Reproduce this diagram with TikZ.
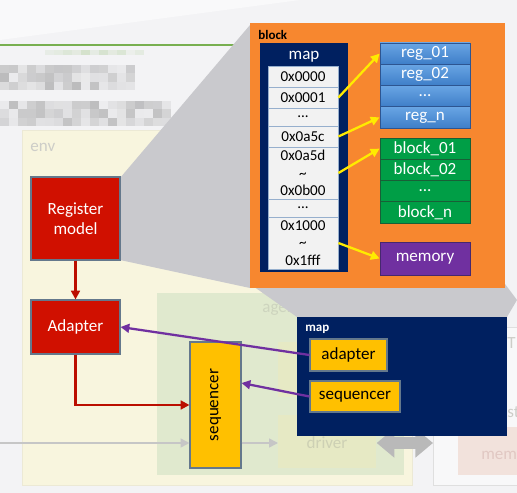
\documentclass[tikz,border=0pt]{standalone}
\usepackage{fontspec}
\setmainfont{Carlito}
\usetikzlibrary{arrows.meta,shapes.geometric}
\definecolor{bgc}{RGB}{243,243,245}
\definecolor{envc}{RGB}{248,245,222}
\definecolor{agentc}{RGB}{224,233,206}
\definecolor{innerc}{RGB}{230,233,196}
\definecolor{fadetxt}{RGB}{205,205,200}
\definecolor{calloutc}{RGB}{201,201,205}
\definecolor{orangec}{RGB}{247,135,47}
\definecolor{navyc}{RGB}{0,32,96}
\definecolor{cellc}{RGB}{242,242,242}
\definecolor{cellb}{RGB}{150,175,205}
\definecolor{bluetop}{RGB}{105,165,228}
\definecolor{bluebot}{RGB}{62,126,200}
\definecolor{blueb}{RGB}{45,85,145}
\definecolor{greenc}{RGB}{0,158,70}
\definecolor{greenb}{RGB}{25,95,55}
\definecolor{purplec}{RGB}{112,48,160}
\definecolor{redc}{RGB}{208,16,0}
\definecolor{boxb}{RGB}{100,120,140}
\definecolor{yelc}{RGB}{255,192,0}
\definecolor{arrowyel}{RGB}{255,235,0}
\definecolor{linegreen}{RGB}{120,175,80}
\tikzset{
  txt/.style={font=\fontsize{9.7}{11.3}\selectfont, align=center, inner sep=0pt},
  cell/.style={txt, font=\fontsize{8.6}{10}\selectfont, fill=cellc, draw=cellb, line width=0.5pt, minimum width=1.4cm, text=black},
  regbox/.style={txt, top color=bluetop, bottom color=bluebot, draw=blueb, line width=0.5pt, minimum width=1.8cm, minimum height=0.425cm, text=white},
  grnbox/.style={txt, fill=greenc, draw=greenb, line width=0.5pt, minimum width=1.8cm, minimum height=0.425cm, text=white},
  redbox/.style={txt, fill=redc, draw=boxb, line width=0.6pt, text=white},
  yelbox/.style={txt, fill=yelc, draw=boxb, line width=0.6pt, text=black},
  yarrow/.style={draw=arrowyel, line width=1.3pt, -{Triangle[length=5pt,width=5pt]}},
  parrow/.style={draw=purplec, line width=1.3pt, -{Triangle[length=5pt,width=5pt]}},
  rarrow/.style={draw=redc!90!black, line width=1.3pt, -{Triangle[length=5pt,width=5pt]}},
  fadebox/.style={inner sep=0pt},
  fadetext/.style={font=\fontsize{9.7}{11}\selectfont, text=fadetxt, inner sep=0pt},
  boldlbl/.style={font=\fontsize{7.4}{8}\selectfont\bfseries, inner sep=0pt},
}
\begin{document}
\begin{tikzpicture}[x=0.02cm,y=-0.02cm]
\useasboundingbox (0,0) rectangle (517,493);
% background
\fill[bgc] (0,0) rectangle (517,493);
\fill[white, opacity=0.5] (0,0) -- (300,0) -- (0,40) -- cycle;
% green header line
\draw[linegreen, line width=1.5pt] (0,45) -- (235,45);
% pixelated blurred text
\pgfmathsetseed{11}
\foreach \i in {0,...,14} \foreach \j in {0,1,2} {
  \pgfmathsetmacro\o{0.05+0.45*rnd}
  \fill[gray, opacity=\o] (\i*9,65+\j*8.5) rectangle ++(9,8.5);
}
\foreach \i in {0,...,18} \foreach \j in {0,1,2} {
  \pgfmathsetmacro\o{0.05+0.45*rnd}
  \fill[gray, opacity=\o] (\i*9,101+\j*8.5) rectangle ++(9,8.5);
}
\foreach \i in {5,...,15} {
  \pgfmathsetmacro\o{0.05+0.2*rnd}
  \fill[linegreen, opacity=\o] (\i*9,50) rectangle ++(9,5);
}
% env
\node[fadebox, fill=envc, draw=envc!90!gray, minimum width=7.8cm, minimum height=7.1cm] (env) at (217,307.5) {};
\node[fadetext, anchor=west] (envl) at (30,147) {env};
% DUT faded
\node[fadebox, fill=bgc!60!white, draw=gray!25, minimum width=1.8cm, minimum height=3.16cm, anchor=north west] (dut) at (433,327) {};
\node[fadetext, anchor=east] (dutl) at (516,343) {UT};
\node[fadetext, anchor=west] (regl) at (507,412) {st};
\node[fadebox, fill={rgb,255:red,242;green,226;blue,220}, minimum width=1.3cm, minimum height=0.96cm, anchor=north west] (memf) at (458,427) {};
\node[fadetext, text={rgb,255:red,225;green,200;blue,195}, anchor=west] (meml) at (481,455) {mem};
% agent
\node[fadebox, fill=agentc, minimum width=4.94cm, minimum height=3.64cm, anchor=north west] (agent) at (157,293) {};
\node[fadetext, text={rgb,255:red,205;green,212;blue,190}, anchor=west] (agentl) at (262,309) {agent};
\node[fadebox, fill=innerc, minimum width=1.96cm, minimum height=1.1cm, anchor=north west] (mon) at (278,342) {};
\node[fadebox, fill=innerc, minimum width=1.96cm, minimum height=1.06cm, anchor=north west] (drv) at (278,415) {};
\node[fadetext, text={rgb,255:red,205;green,208;blue,180}] (drvl) at (327,443) {driver};
% sequencer tall
\node[yelbox, minimum width=1.02cm, minimum height=2.52cm] (seqT) at (215.5,405) {\rotatebox{90}{sequencer}};
% faded gray arrows
\coordinate (lin) at (0,443);
\draw[gray!45, line width=0.9pt, -{Triangle[length=5pt,width=5pt]}] (lin) -- (seqT.west |- lin);
\draw[gray!45, line width=0.9pt, -{Triangle[length=5pt,width=5pt]}] (seqT.east |- lin) -- (drv.west |- lin);
\draw[gray!55, line width=7pt, {Triangle[length=10pt,width=16pt]}-{Triangle[length=10pt,width=16pt]}] (drv.east |- lin) -- (dut.west |- lin);
% callout shapes
\fill[calloutc] (250,25) -- (120,178) -- (120,260) -- (250,288) -- cycle;
\fill[calloutc] (250,284) -- (505,284) -- (517,300) -- (507,317) -- (297,317) -- cycle;
% block
\node[fadebox, fill=orangec, minimum width=5.1cm, minimum height=5.3cm] (block) at (377.5,155.5) {};
\node[boldlbl, anchor=west] (blockl) at (258,35) {block};
\node[fadebox, fill=navyc, minimum width=1.76cm, minimum height=4.58cm] (mapc) at (304,157.5) {};
\node[txt, text=white] (mapl) at (304,57) {map};
\node[cell, minimum height=0.42cm] (c0) at (303,76.5) {0x0000};
\node[cell, minimum height=0.42cm] (c1) at (303,97.5) {0x0001};
\node[cell, minimum height=0.36cm] (c2) at (303,117) {...};
\node[cell, minimum height=0.42cm] (c3) at (303,136.5) {0x0a5c};
\node[cell, minimum height=1.04cm] (c4) at (303,173) {0x0a5d\\\textasciitilde\\0x0b00};
\node[cell, minimum height=0.36cm] (c5) at (303,208) {...};
\node[cell, minimum height=1.04cm] (c6) at (303,243) {0x1000\\\textasciitilde\\0x1fff};
% reg boxes
\node[regbox] (r1) at (425,53.6) {reg\_01};
\node[regbox] (r2) at (425,74.9) {reg\_02};
\node[regbox] (r3) at (425,96.1) {...};
\node[regbox] (r4) at (425,117.4) {reg\_n};
\node[grnbox] (g1) at (425,148.6) {block\_01};
\node[grnbox] (g2) at (425,169.9) {block\_02};
\node[grnbox] (g3) at (425,191.1) {...};
\node[grnbox] (g4) at (425,212.4) {block\_n};
\node[txt, fill=purplec, draw={rgb,255:red,70;green,40;blue,110}, line width=0.5pt, minimum width=1.8cm, minimum height=0.66cm, text=white] (mem) at (425,258.5) {memory};
\draw[yarrow] (c1.east) -- (r1.west);
\draw[yarrow] (c3.east) -- (r4.west);
\draw[yarrow] (c4.east) -- (g1.west);
\draw[yarrow] (c6.east) -- (mem.west);
% left boxes
\node[redbox, minimum width=1.78cm, minimum height=1.66cm] (regm) at (75.5,218.5) {Register\\model};
\node[redbox, minimum width=1.78cm, minimum height=1.08cm] (adap) at (75.5,327) {Adapter};
\draw[rarrow] (regm.south) -- (adap.north);
\draw[rarrow] (adap.south) |- (seqT.west);
% map box
\node[fadebox, fill=navyc, minimum width=4.2cm, minimum height=2.38cm] (mapb) at (402,376.5) {};
\node[boldlbl, text=white, anchor=west] (mapbl) at (305,329) {map};
\node[yelbox, minimum width=1.54cm, minimum height=0.64cm] (adS) at (348.5,355) {adapter};
\node[yelbox, minimum width=1.8cm, minimum height=0.62cm] (sqS) at (355,396.5) {sequencer};
\draw[parrow] (adS.west) -- (adap.east);
\draw[parrow] (sqS.west) -- ([yshift=0.44cm]seqT.east);
\end{tikzpicture}
\end{document}
